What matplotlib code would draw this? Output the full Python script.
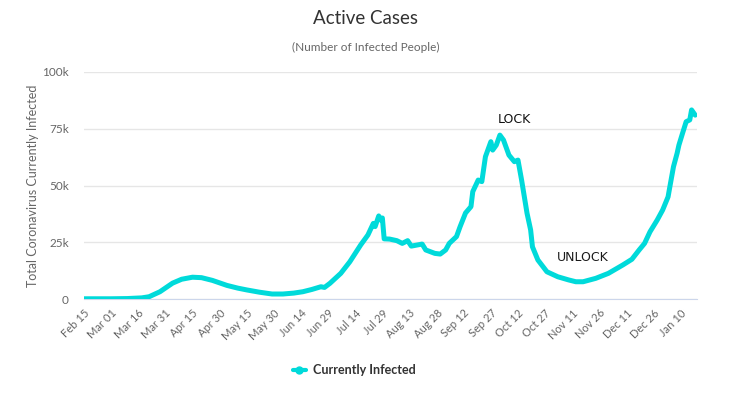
import numpy as np
import pandas as pd
import matplotlib
matplotlib.use('Agg')
import matplotlib.pyplot as plt

# data (values in thousands)
dates = [
    '2020-02-15', '2020-03-01', '2020-03-10', '2020-03-18', '2020-03-22', '2020-03-28',
    '2020-04-04', '2020-04-09', '2020-04-15', '2020-04-20', '2020-04-26', '2020-05-04',
    '2020-05-10', '2020-05-15', '2020-05-22', '2020-05-29', '2020-06-04', '2020-06-10',
    '2020-06-15', '2020-06-20', '2020-06-25', '2020-06-27', '2020-06-30', '2020-07-06',
    '2020-07-11', '2020-07-17', '2020-07-21', '2020-07-24', '2020-07-25', '2020-07-27',
    '2020-07-28', '2020-07-29', '2020-07-30', '2020-08-02', '2020-08-06', '2020-08-09',
    '2020-08-12', '2020-08-14', '2020-08-20', '2020-08-22', '2020-08-27', '2020-08-30',
    '2020-09-02', '2020-09-04', '2020-09-08', '2020-09-10', '2020-09-13', '2020-09-16',
    '2020-09-17', '2020-09-20', '2020-09-22', '2020-09-24', '2020-09-27', '2020-09-28',
    '2020-09-30', '2020-10-02', '2020-10-04', '2020-10-07', '2020-10-10', '2020-10-12',
    '2020-10-14', '2020-10-17', '2020-10-19', '2020-10-20', '2020-10-23', '2020-10-28',
    '2020-11-03', '2020-11-09', '2020-11-13', '2020-11-17', '2020-11-24', '2020-12-01',
    '2020-12-09', '2020-12-14', '2020-12-18', '2020-12-21', '2020-12-24', '2020-12-28',
    '2020-12-31', '2021-01-03', '2021-01-04', '2021-01-06', '2021-01-08', '2021-01-09',
    '2021-01-11', '2021-01-13', '2021-01-15', '2021-01-16', '2021-01-18',
]
active_k = [
    0.1, 0.1, 0.2, 0.5, 1.0, 3.2,
    7.0, 8.7, 9.6, 9.4, 8.2, 6.0,
    4.8, 4.0, 3.0, 2.2, 2.2, 2.6,
    3.2, 4.2, 5.4, 5.1, 6.9, 11.3,
    16.4, 23.8, 28.2, 33.3, 31.9, 36.6,
    34.8, 35.7, 26.5, 26.4, 25.7, 24.5,
    25.7, 23.3, 24.2, 21.6, 20.1, 19.8,
    21.6, 24.5, 27.5, 31.9, 37.9, 40.7,
    47.3, 52.4, 51.7, 62.7, 69.3, 65.6,
    67.8, 72.2, 70.0, 63.4, 60.5, 61.2,
    52.4, 37.8, 30.4, 23.0, 17.2, 12.0,
    9.8, 8.4, 7.6, 7.6, 9.1, 11.3,
    15.0, 17.5, 21.6, 24.5, 29.6, 34.8,
    39.2, 45.0, 49.5, 58.3, 64.2, 67.8,
    73.0, 78.1, 78.9, 83.3, 81.0,
]
y_ticks = [0, 25000, 50000, 75000, 100000]
y_tick_labels = ['0', '25k', '50k', '75k', '100k']
x_tick_dates = pd.date_range('2020-02-15', '2021-01-10', freq='15D')

x = pd.to_datetime(dates)
y = np.array(active_k) * 1000

fig = plt.figure(figsize=(7.31, 3.99), dpi=100)
ax = fig.add_axes([84 / 731, 1 - 299 / 399, (697 - 84) / 731, (299 - 72) / 399])

line_color = '#00dada'
ax.plot(x, y, color=line_color, lw=3.6, solid_joinstyle='round', solid_capstyle='round', zorder=3)

ax.set_xlim(pd.Timestamp('2020-02-15'), pd.Timestamp('2021-01-19'))
ax.set_ylim(0, 100000)
ax.set_yticks(y_ticks)
ax.set_yticklabels(y_tick_labels)
ax.set_xticks(x_tick_dates)
ax.set_xticklabels([d.strftime('%b %d') for d in x_tick_dates], rotation=45,
                   ha='right', va='top', rotation_mode='anchor')

ax.grid(axis='y', color='#e6e6e6', lw=1)
ax.set_axisbelow(True)
for s in ['top', 'right', 'left']:
    ax.spines[s].set_visible(False)
ax.spines['bottom'].set_color('#ccd6eb')
ax.tick_params(axis='y', length=0, pad=11, labelsize=8.5, labelcolor='#666666')
ax.tick_params(axis='x', length=0, pad=6, labelsize=8, labelcolor='#666666')
for lab in ax.get_xticklabels() + ax.get_yticklabels():
    lab.set_family('Lato')

ax.set_ylabel('Total Coronavirus Currently Infected', color='#666666', fontsize=9,
              family='Lato', labelpad=2)

fig.text(0.5, 1 - 18 / 399, 'Active Cases', ha='center', va='center',
         fontsize=13.5, color='#333333', family='Lato')
fig.text(0.5, 1 - 47 / 399, '(Number of Infected People)', ha='center', va='center',
         fontsize=8.5, color='#666666', family='Lato')

ax.text(pd.Timestamp('2020-10-10'), 79000, 'LOCK', ha='center', va='center',
        fontsize=9, color='#111111')
ax.text(pd.Timestamp('2020-11-17'), 18500, 'UNLOCK', ha='center', va='center',
        fontsize=9, color='#1a1a1a')

leg = fig.legend(['Currently Infected'], loc='center', bbox_to_anchor=(0.485, 1 - 370 / 399),
                 frameon=False, handlelength=1.0, handletextpad=0.6,
                 prop={'family': 'Lato', 'weight': 'bold', 'size': 9})
for h in leg.get_lines():
    h.set_marker('o')
    h.set_markersize(5)
    h.set_linewidth(3)
for t in leg.get_texts():
    t.set_color('#333333')

plt.savefig('out.png', dpi=100)
